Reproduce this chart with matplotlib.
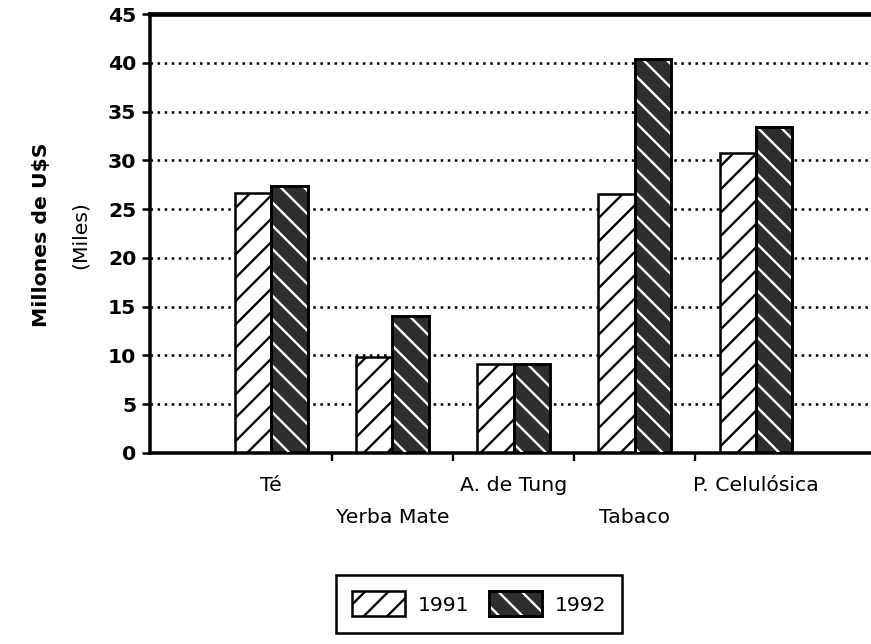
import matplotlib.pyplot as plt
import matplotlib.patches as mpatches
from matplotlib.legend_handler import HandlerTuple
import numpy as np

categories = ["Té", "Yerba Mate", "A. de Tung", "Tabaco", "P. Celulósica"]
v1991 = [26.7, 9.8, 9.1, 26.6, 30.8]
v1992 = [27.4, 14.0, 9.1, 40.4, 33.4]
yticks = [0, 5, 10, 15, 20, 25, 30, 35, 40, 45]

plt.rcParams["font.family"] = ["DejaVu Sans"]
plt.rcParams["hatch.linewidth"] = 1.2

fig = plt.figure(figsize=(871 / 140, 644 / 140), dpi=140)
ax = fig.add_axes([0.1722, 0.2966, 0.8278, 0.6814])

x = np.arange(len(categories))
w = 0.3
dark = "#2e2e2e"
fs = 10.5

# dotted grid behind the bars
for y in yticks[1:-1]:
    ax.axhline(y, color="black", lw=1.3, ls=(0, (1, 1.8)), zorder=0)

ax.bar(x - w / 2, v1991, w, color="white", edgecolor="black", lw=1.3,
       hatch="//", zorder=2)
ax.bar(x + w / 2, v1992, w, color=dark, edgecolor="black", lw=0, zorder=2)
ax.bar(x + w / 2, v1992, w, color="none", edgecolor="white", lw=0,
       hatch="\\\\", zorder=3)
ax.bar(x + w / 2, v1992, w, color="none", edgecolor="black", lw=1.5, zorder=4)

ax.set_xlim(-1.0, 4.95)
ax.set_ylim(0, 45)
ax.set_yticks(yticks)
ax.set_yticklabels([str(t) for t in yticks], fontsize=fs, fontweight="bold")
ax.tick_params(axis="y", length=4, width=1.3, direction="out", pad=3)

ax.set_xticks(x[:-1] + 0.5)
ax.set_xticklabels([])
ax.tick_params(axis="x", length=4, width=1.2, direction="out")

for i, lab in enumerate(categories):
    yy = -0.073 if i % 2 == 0 else -0.148
    ax.text(i, yy, lab, transform=ax.get_xaxis_transform(), ha="center",
            va="center", fontsize=fs)

for s in ["left", "bottom"]:
    ax.spines[s].set_linewidth(1.8)
ax.spines["top"].set_linewidth(2.4)
ax.spines["right"].set_visible(False)

fig.text(0.048, 0.635, "Millones de U$S", rotation=90, ha="center",
         va="center", fontsize=fs, fontweight="bold")
fig.text(0.092, 0.635, "(Miles)", rotation=90, ha="center", va="center",
         fontsize=fs)

h1 = mpatches.Patch(facecolor="white", edgecolor="black", hatch="//", lw=1.3)
h2a = mpatches.Patch(facecolor=dark, edgecolor="black", lw=0)
h2b = mpatches.Patch(facecolor="none", edgecolor="white", hatch="\\\\", lw=0)
h2c = mpatches.Patch(facecolor="none", edgecolor="black", lw=1.5)
leg = fig.legend([h1, (h2a, h2b, h2c)], ["1991", "1992"], ncol=2,
                 loc="upper center", bbox_to_anchor=(0.55, 0.107),
                 borderaxespad=0,
                 handler_map={tuple: HandlerTuple(ndivide=1, pad=0)},
                 fontsize=fs, fancybox=False, edgecolor="black",
                 handlelength=2.6, handleheight=1.5, columnspacing=1.0,
                 handletextpad=0.6, borderpad=0.8, framealpha=1)
leg.get_frame().set_linewidth(1.3)

fig.savefig("out.png", dpi=140)
